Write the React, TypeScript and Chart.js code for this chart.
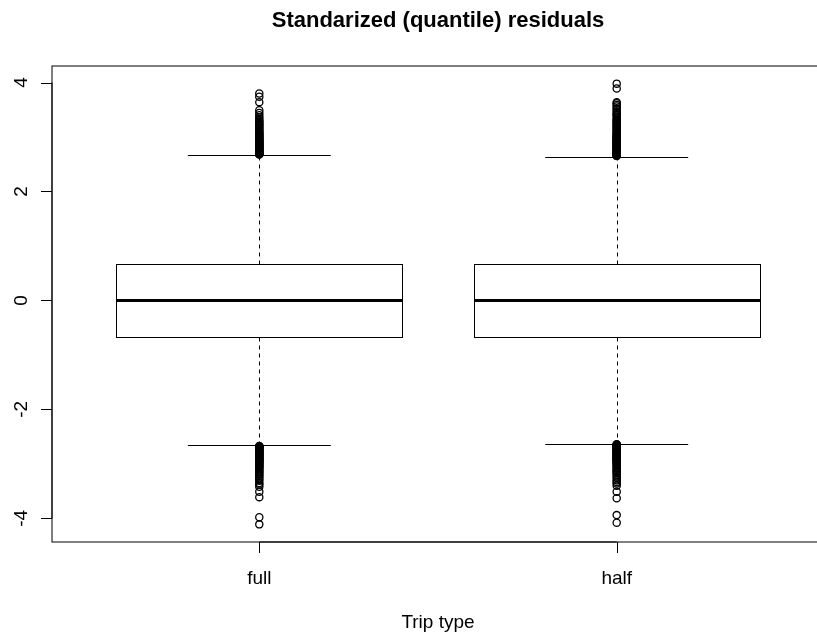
import React, { useEffect, useRef } from "react";
import { Chart, registerables } from "chart.js";

Chart.register(...registerables);

const categories = ["full", "half"];
const boxQ1 = [-0.67, -0.67];
const boxMedian = [0, 0];
const boxQ3 = [0.67, 0.67];
const whiskerLow = [-2.66, -2.63];
const whiskerHigh = [2.67, 2.64];

const fullOutliers = [
  2.68, 2.685, 2.69, 2.695, 2.7, 2.705, 2.71, 2.715, 2.72, 2.725, 2.73, 2.74, 2.75, 2.76, 2.77,
  2.78, 2.79, 2.8, 2.81, 2.82, 2.83, 2.84, 2.85, 2.86, 2.87, 2.88, 2.89, 2.9, 2.91, 2.92, 2.93,
  2.94, 2.95, 2.96, 2.98, 2.99, 3.0, 3.02, 3.03, 3.04, 3.06, 3.07, 3.08, 3.1, 3.12, 3.14, 3.16,
  3.18, 3.2, 3.22, 3.24, 3.26, 3.28, 3.3, 3.33, 3.36, 3.4, 3.44, 3.49, 3.64, 3.74, 3.8,
  -2.67, -2.675, -2.68, -2.685, -2.69, -2.695, -2.7, -2.705, -2.71, -2.72, -2.73, -2.74, -2.75,
  -2.76, -2.77, -2.78, -2.79, -2.8, -2.81, -2.82, -2.83, -2.84, -2.85, -2.86, -2.87, -2.88,
  -2.89, -2.9, -2.91, -2.92, -2.93, -2.94, -2.95, -2.96, -2.97, -2.98, -3.0, -3.01, -3.02,
  -3.04, -3.05, -3.06, -3.08, -3.1, -3.12, -3.14, -3.16, -3.18, -3.2, -3.22, -3.25, -3.28,
  -3.31, -3.35, -3.38, -3.42, -3.51, -3.61, -3.98, -4.11,
];

const halfOutliers = [
  2.65, 2.655, 2.66, 2.665, 2.67, 2.675, 2.68, 2.685, 2.69, 2.7, 2.71, 2.72, 2.73, 2.74, 2.75,
  2.76, 2.77, 2.78, 2.79, 2.8, 2.81, 2.82, 2.83, 2.84, 2.85, 2.86, 2.87, 2.88, 2.89, 2.9, 2.91,
  2.92, 2.93, 2.94, 2.95, 2.96, 2.97, 2.98, 3.0, 3.01, 3.02, 3.04, 3.05, 3.06, 3.08, 3.1, 3.12,
  3.14, 3.16, 3.18, 3.2, 3.22, 3.24, 3.26, 3.28, 3.3, 3.32, 3.34, 3.37, 3.4, 3.42, 3.44, 3.47,
  3.5, 3.53, 3.56, 3.59, 3.62, 3.64, 3.89, 3.98,
  -2.64, -2.645, -2.65, -2.655, -2.66, -2.665, -2.67, -2.675, -2.68, -2.69, -2.7, -2.71, -2.72,
  -2.73, -2.74, -2.75, -2.76, -2.77, -2.78, -2.79, -2.8, -2.81, -2.82, -2.83, -2.84, -2.85,
  -2.86, -2.87, -2.88, -2.89, -2.9, -2.91, -2.92, -2.93, -2.94, -2.95, -2.97, -2.98, -3.0,
  -3.01, -3.03, -3.05, -3.07, -3.09, -3.11, -3.13, -3.15, -3.17, -3.2, -3.23, -3.26, -3.3,
  -3.33, -3.36, -3.4, -3.51, -3.63, -3.94, -4.08,
];

const yTicks = [-4, -2, 0, 2, 4];
const titleText = "Standarized (quantile) residuals";
const xTitleText = "Trip type";

const FONT = '"Liberation Sans", Arial, sans-serif';

const allValues = [...fullOutliers, ...halfOutliers];
const dataMin = Math.min(...allValues);
const dataMax = Math.max(...allValues);
const yMin = dataMin - 0.04 * (dataMax - dataMin);
const yMax = dataMax + 0.04 * (dataMax - dataMin);

const snap = (v: number) => Math.round(v) + 0.5;

const boxPlugin = {
  id: "rBoxplot",
  beforeDatasetsDraw(chart: any) {
    const { ctx } = chart;
    const x = chart.scales.x;
    const y = chart.scales.y;
    ctx.save();
    ctx.strokeStyle = "#000";
    categories.forEach((_, i) => {
      const pos = i + 1;
      const xl = snap(x.getPixelForValue(pos - 0.4));
      const xr = snap(x.getPixelForValue(pos + 0.4));
      const xc = snap(x.getPixelForValue(pos));
      const sl = x.getPixelForValue(pos - 0.2);
      const sr = x.getPixelForValue(pos + 0.2);
      const y1 = snap(y.getPixelForValue(boxQ1[i]));
      const y3 = snap(y.getPixelForValue(boxQ3[i]));
      const ym = Math.round(y.getPixelForValue(boxMedian[i]));
      const ylo = snap(y.getPixelForValue(whiskerLow[i]));
      const yhi = snap(y.getPixelForValue(whiskerHigh[i]));

      ctx.lineWidth = 1;
      ctx.setLineDash([4, 4]);
      ctx.beginPath();
      ctx.moveTo(xc, y3);
      ctx.lineTo(xc, yhi);
      ctx.moveTo(xc, y1);
      ctx.lineTo(xc, ylo);
      ctx.stroke();
      ctx.setLineDash([]);

      ctx.beginPath();
      ctx.moveTo(sl, yhi);
      ctx.lineTo(sr, yhi);
      ctx.moveTo(sl, ylo);
      ctx.lineTo(sr, ylo);
      ctx.stroke();

      ctx.strokeRect(xl, y3, xr - xl, y1 - y3);

      ctx.lineWidth = 3;
      ctx.beginPath();
      ctx.moveTo(xl, ym + 0.5);
      ctx.lineTo(xr, ym + 0.5);
      ctx.stroke();
    });
    ctx.restore();
  },
  afterDraw(chart: any) {
    const { ctx, chartArea } = chart;
    const x = chart.scales.x;
    const y = chart.scales.y;
    ctx.save();
    ctx.strokeStyle = "#000";
    ctx.fillStyle = "#000";
    ctx.lineWidth = 1;

    ctx.strokeRect(chartArea.left, chartArea.top, chartArea.right - chartArea.left, chartArea.bottom - chartArea.top);

    const yTop = y.getPixelForValue(yTicks[yTicks.length - 1]);
    const yBot = y.getPixelForValue(yTicks[0]);
    ctx.beginPath();
    ctx.moveTo(chartArea.left, yTop);
    ctx.lineTo(chartArea.left, yBot);
    yTicks.forEach((t) => {
      const py = Math.round(y.getPixelForValue(t)) + 0.5;
      ctx.moveTo(chartArea.left, py);
      ctx.lineTo(chartArea.left - 11, py);
    });
    ctx.stroke();

    ctx.font = `19px ${FONT}`;
    ctx.textAlign = "center";
    ctx.textBaseline = "alphabetic";
    yTicks.forEach((t) => {
      const py = y.getPixelForValue(t);
      ctx.save();
      ctx.translate(chartArea.left - 25, py);
      ctx.rotate(-Math.PI / 2);
      ctx.fillText(t < 0 ? `-${Math.abs(t)}` : `${t}`, 0, 0);
      ctx.restore();
    });

    const x1 = x.getPixelForValue(1);
    const x2 = x.getPixelForValue(categories.length);
    ctx.beginPath();
    ctx.moveTo(x1, chartArea.bottom);
    ctx.lineTo(x2, chartArea.bottom);
    categories.forEach((_, i) => {
      const px = Math.round(x.getPixelForValue(i + 1)) + 0.5;
      ctx.moveTo(px, chartArea.bottom);
      ctx.lineTo(px, chartArea.bottom + 11);
    });
    ctx.stroke();

    ctx.textBaseline = "middle";
    categories.forEach((c, i) => {
      ctx.fillText(c, x.getPixelForValue(i + 1), chartArea.bottom + 37);
    });

    const cx = (chartArea.left + chartArea.right) / 2;
    ctx.fillText(xTitleText, cx, chartArea.bottom + 81);

    ctx.font = `bold 22px ${FONT}`;
    ctx.fillText(titleText, cx, 21);
    ctx.restore();
  },
};

export default function App() {
  const canvasRef = useRef<HTMLCanvasElement | null>(null);

  useEffect(() => {
    const canvas = canvasRef.current;
    if (!canvas) return;
    const pointStyle = {
      pointStyle: "circle",
      pointRadius: 3.6,
      pointBorderWidth: 1.3,
      pointBorderColor: "#000",
      pointBackgroundColor: "rgba(0,0,0,0)",
      pointHoverRadius: 3.6,
    };
    const chart = new Chart(canvas, {
      type: "scatter",
      data: {
        datasets: [
          { label: categories[0], data: fullOutliers.map((v) => ({ x: 1, y: v })), ...pointStyle },
          { label: categories[1], data: halfOutliers.map((v) => ({ x: 2, y: v })), ...pointStyle },
        ] as any,
      },
      options: {
        responsive: false,
        animation: false,
        devicePixelRatio: 1,
        layout: { padding: { left: 52, top: 66, right: 6, bottom: 97 } },
        scales: {
          x: { type: "linear", min: 0.42, max: 2.58, display: false },
          y: { type: "linear", min: yMin, max: yMax, display: false },
        },
        plugins: {
          legend: { display: false },
          tooltip: { enabled: false },
          title: { display: false },
        },
        events: [],
      } as any,
      plugins: [boxPlugin],
    });
    return () => chart.destroy();
  }, []);

  return (
    <div
      style={{
        position: "fixed",
        left: 0,
        top: 0,
        width: 817,
        height: 639,
        overflow: "hidden",
        background: "#fff",
      }}
    >
      <canvas ref={canvasRef} width={830} height={639} style={{ display: "block" }} />
    </div>
  );
}
